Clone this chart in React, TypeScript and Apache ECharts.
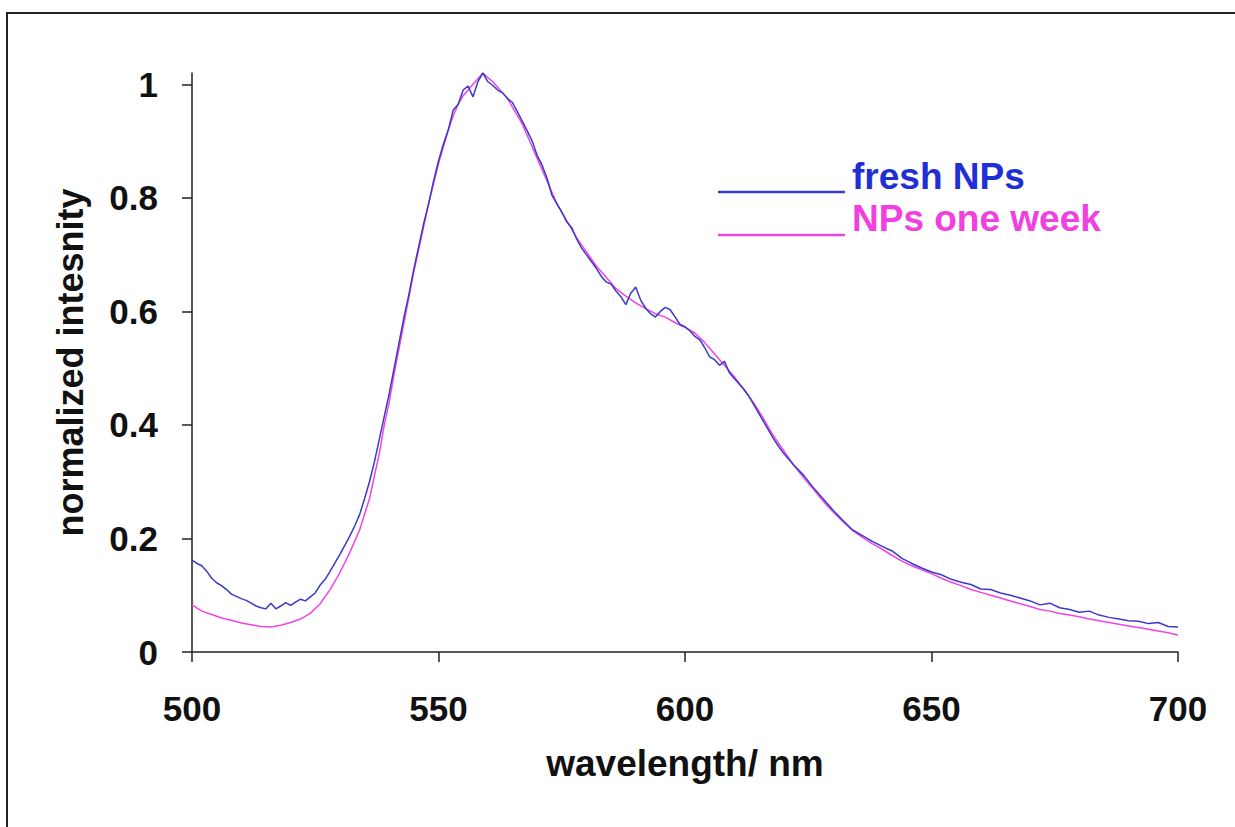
import React, { useEffect, useRef } from "react";
import * as echarts from "echarts";

const xTicks = [500, 550, 600, 650, 700];
const yTicks = [0, 0.2, 0.4, 0.6, 0.8, 1];

const freshWl = [
  500, 501, 502, 503, 504, 505, 506, 507, 508, 509, 510, 511, 512, 513, 514, 515, 516, 517, 518, 519,
  520, 521, 522, 523, 524, 525, 526, 527, 528, 529, 530, 531, 532, 533, 534, 535, 536, 537, 538, 539,
  540, 541, 542, 543, 544, 545, 546, 547, 548, 549, 550, 551, 552, 553, 554, 555, 556, 557, 558, 559,
  560, 561, 562, 563, 564, 565, 566, 567, 568, 569, 570, 571, 572, 573, 574, 575, 576, 577, 578, 579,
  580, 581, 582, 583, 584, 585, 586, 587, 588, 589, 590, 591, 592, 593, 594, 595, 596, 597, 598, 599,
  600, 601, 602, 603, 604, 605, 606, 607, 608, 609, 610, 611, 612, 613, 614, 615, 616, 617, 618, 619,
  620, 622, 624, 626, 628, 630, 632, 634, 636, 638, 640, 642, 644, 646, 648, 650, 652, 654, 656, 658,
  660, 662, 664, 666, 668, 670, 672, 674, 676, 678, 680, 682, 684, 686, 688, 690, 692, 694, 696, 698, 700,
];
const freshNPs = [
  0.162, 0.156, 0.152, 0.142, 0.13, 0.122, 0.117, 0.11, 0.102, 0.098, 0.094, 0.091, 0.086, 0.081, 0.078, 0.076, 0.086, 0.076, 0.081, 0.087,
  0.082, 0.088, 0.093, 0.09, 0.097, 0.104, 0.118, 0.128, 0.142, 0.157, 0.172, 0.188, 0.204, 0.222, 0.242, 0.27, 0.3, 0.335, 0.375, 0.415,
  0.455, 0.5, 0.545, 0.59, 0.63, 0.675, 0.715, 0.755, 0.79, 0.83, 0.865, 0.895, 0.92, 0.955, 0.965, 0.99, 0.997, 0.978, 1.005, 1.02,
  1.005, 0.998, 0.99, 0.985, 0.975, 0.968, 0.952, 0.935, 0.918, 0.9, 0.875, 0.858, 0.835, 0.805, 0.79, 0.775, 0.758, 0.748, 0.728, 0.712,
  0.7, 0.688, 0.676, 0.662, 0.652, 0.648, 0.636, 0.626, 0.612, 0.632, 0.643, 0.62, 0.606, 0.596, 0.59, 0.6, 0.607, 0.603, 0.59, 0.577,
  0.573, 0.566, 0.556, 0.55, 0.536, 0.52, 0.515, 0.505, 0.512, 0.492, 0.482, 0.472, 0.462, 0.45, 0.435, 0.42, 0.405, 0.39, 0.375, 0.362,
  0.35, 0.33, 0.312, 0.29, 0.27, 0.25, 0.232, 0.215, 0.205, 0.195, 0.186, 0.178, 0.165, 0.156, 0.148, 0.141, 0.136, 0.128, 0.123, 0.119,
  0.111, 0.11, 0.104, 0.1, 0.095, 0.09, 0.083, 0.086, 0.078, 0.075, 0.07, 0.072, 0.065, 0.061, 0.058, 0.055, 0.054, 0.05, 0.052, 0.045, 0.044,
];

const weekWl = [
  500, 502, 504, 506, 508, 510, 512, 514, 516, 518, 520, 522, 524, 526, 528, 530, 532, 534, 536, 537,
  538, 539, 540, 541, 542, 543, 544, 545, 546, 547, 548, 549, 550, 551, 552, 553, 554, 555, 556, 557,
  558, 559, 560, 561, 562, 563, 564, 565, 566, 567, 568, 569, 570, 572, 574, 576, 578, 580, 582, 584,
  586, 588, 590, 592, 594, 596, 598, 600, 602, 604, 606, 608, 610, 612, 614, 616, 618, 620, 622, 624,
  626, 628, 630, 632, 634, 636, 638, 640, 642, 644, 646, 648, 650, 652, 654, 656, 658, 660, 662, 664,
  666, 668, 670, 672, 674, 676, 678, 680, 682, 684, 686, 688, 690, 692, 694, 696, 698, 700,
];
const npsOneWeek = [
  0.083, 0.072, 0.066, 0.06, 0.056, 0.051, 0.048, 0.045, 0.044, 0.047, 0.052, 0.058, 0.068, 0.085, 0.11, 0.14, 0.175, 0.215, 0.27, 0.31,
  0.35, 0.4, 0.44, 0.49, 0.535, 0.58, 0.625, 0.67, 0.71, 0.75, 0.79, 0.825, 0.86, 0.89, 0.92, 0.945, 0.965, 0.98, 0.99, 1.0,
  1.01, 1.02, 1.012, 1.005, 0.995, 0.985, 0.975, 0.96, 0.945, 0.93, 0.91, 0.89, 0.87, 0.83, 0.79, 0.76, 0.73, 0.705, 0.68, 0.66,
  0.64, 0.627, 0.615, 0.605, 0.596, 0.59, 0.58, 0.572, 0.562, 0.545, 0.525, 0.505, 0.485, 0.462, 0.438, 0.41, 0.38, 0.355, 0.33, 0.308,
  0.287, 0.266, 0.247, 0.23, 0.214, 0.202, 0.191, 0.181, 0.17, 0.16, 0.152, 0.145, 0.138, 0.13, 0.123, 0.117, 0.11, 0.105, 0.1, 0.095,
  0.09, 0.085, 0.08, 0.075, 0.072, 0.068, 0.065, 0.062, 0.058, 0.055, 0.052, 0.049, 0.046, 0.043, 0.04, 0.037, 0.034, 0.03,
];

const seriesNames = ["fresh NPs", "NPs one week"];
const lineColors = ["#3a3ac8", "#f044e4"];
const textColors = ["#1f2fd6", "#f040e0"];

const FONT = "'Liberation Sans', Arial, sans-serif";

export default function App() {
  const ref = useRef<HTMLDivElement>(null);
  useEffect(() => {
    if (!ref.current) return;
    const chart = echarts.init(ref.current, null, { renderer: "svg" });
    const axisLine = { show: true, lineStyle: { color: "#222", width: 1.5 } };
    chart.setOption({
      animation: false,
      backgroundColor: "#fff",
      grid: { left: 192, right: 57, top: 73, bottom: 175, containLabel: false },
      xAxis: {
        type: "value",
        min: 500,
        max: 700,
        interval: 50,
        name: "wavelength/ nm",
        nameLocation: "middle",
        nameGap: 93,
        nameTextStyle: { fontFamily: FONT, fontWeight: "bold", fontSize: 37, color: "#111" },
        axisLine,
        axisTick: { show: true, inside: false, length: 10, customValues: xTicks, lineStyle: { color: "#222", width: 1.5 } },
        axisLabel: {
          margin: 39,
          fontFamily: FONT,
          fontWeight: "bold",
          fontSize: 35,
          color: "#111",
          customValues: xTicks,
          formatter: (v: number) => String(v),
        },
        splitLine: { show: false },
      },
      yAxis: {
        type: "value",
        min: 0,
        max: 1.02,
        name: "normalized intesnity",
        nameLocation: "middle",
        nameGap: 104,
        nameTextStyle: { fontFamily: FONT, fontWeight: "bold", fontSize: 36, color: "#111" },
        axisLine,
        axisTick: {
          show: true,
          inside: false,
          length: 10,
          customValues: yTicks,
          lineStyle: { color: "#222", width: 1.5 },
        },
        axisLabel: {
          margin: 34,
          fontFamily: FONT,
          fontWeight: "bold",
          fontSize: 35,
          color: "#111",
          customValues: yTicks,
          formatter: (v: number) => String(Math.round(v * 10) / 10),
        },
        splitLine: { show: false },
      },
      series: [
        {
          name: seriesNames[0],
          type: "line",
          data: freshWl.map((w, i) => [w, freshNPs[i]]),
          showSymbol: false,
          lineStyle: { color: lineColors[0], width: 1.5 },
          itemStyle: { color: lineColors[0] },
          z: 3,
        },
        {
          name: seriesNames[1],
          type: "line",
          data: weekWl.map((w, i) => [w, npsOneWeek[i]]),
          showSymbol: false,
          lineStyle: { color: lineColors[1], width: 1.5 },
          itemStyle: { color: lineColors[1] },
          z: 2,
        },
      ],
      graphic: [
        {
          type: "rect",
          shape: { x: 7, y: 13, width: 1300, height: 900 },
          style: { fill: "none", stroke: "#222", lineWidth: 2 },
          silent: true,
        },
        {
          type: "line",
          shape: { x1: 718, y1: 192, x2: 845, y2: 192 },
          style: { stroke: lineColors[0], lineWidth: 2.5 },
        },
        {
          type: "line",
          shape: { x1: 718, y1: 235, x2: 845, y2: 235 },
          style: { stroke: lineColors[1], lineWidth: 2.5 },
        },
        {
          type: "text",
          x: 852,
          y: 176,
          style: {
            text: seriesNames[0],
            fill: textColors[0],
            font: `bold 37px ${FONT}`,
            verticalAlign: "middle",
            align: "left",
          },
        },
        {
          type: "text",
          x: 852,
          y: 218,
          style: {
            text: seriesNames[1],
            fill: textColors[1],
            font: `bold 37px ${FONT}`,
            verticalAlign: "middle",
            align: "left",
          },
        },
      ],
    });
    return () => chart.dispose();
  }, []);
  return (
    <div
      ref={ref}
      style={{ position: "absolute", left: 0, top: 0, width: 1235, height: 827, background: "#fff" }}
    />
  );
}
